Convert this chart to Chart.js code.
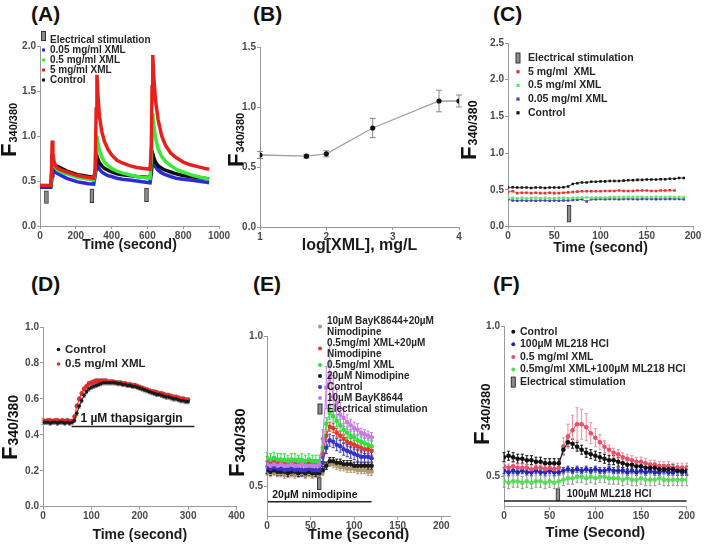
<!DOCTYPE html>
<html>
<head>
<meta charset="utf-8">
<style>
  body { margin: 0; background: #fff; width: 704px; height: 552px; position: relative; overflow: hidden; }
  canvas { position: absolute; }
  .tag { position: absolute; font: bold 21px 'Liberation Sans', Arial, sans-serif; line-height: 1; color: #111; }
</style>
<script src="https://cdn.jsdelivr.net/npm/chart.js@4.4.0/dist/chart.umd.min.js"></script>
</head>
<body>
<div class="tag" style="left:31px;top:3px">(A)</div>
<div class="tag" style="left:253px;top:3px">(B)</div>
<div class="tag" style="left:493px;top:3px">(C)</div>
<div class="tag" style="left:31px;top:273px">(D)</div>
<div class="tag" style="left:253px;top:273px">(E)</div>
<div class="tag" style="left:493px;top:273px">(F)</div>

<canvas id="cA" width="235" height="262" style="left:0;top:0"></canvas>
<canvas id="cB" width="242" height="262" style="left:228px;top:0"></canvas>
<canvas id="cC" width="244" height="262" style="left:460px;top:0"></canvas>
<canvas id="cD" width="250" height="282" style="left:0;top:270px"></canvas>
<canvas id="cE" width="242" height="282" style="left:228px;top:270px"></canvas>
<canvas id="cF" width="244" height="282" style="left:460px;top:270px"></canvas>

<script>
  // ---- panel A: electrical stimulation, 3 pulses
  const tA = [0, 20, 40, 60, 64, 68, 72, 80, 90, 100, 120, 150, 180, 210, 240, 270, 300,
    308, 314, 318, 324, 332, 345, 360, 380, 400, 430, 460, 500, 540, 580, 615,
    622, 626, 630, 636, 645, 660, 680, 700, 730, 760, 800, 840, 880, 920, 945]
  const redA = [.45, .45, .45, .45, .60, .95, .80, .70, .66, .64, .62, .60, .58, .56, .55, .54, .53,
    .62, 1.30, 1.68, 1.45, 1.22, 1.05, .94, .85, .79, .73, .70, .67, .65, .64, .63,
    .90, 1.55, 1.90, 1.65, 1.40, 1.18, 1.00, .90, .81, .76, .71, .68, .66, .64, .63]
  const greenA = [.45, .45, .45, .45, .55, .80, .72, .67, .64, .62, .60, .58, .56, .54, .53, .52, .51,
    .60, .90, 1.00, .92, .84, .77, .71, .67, .64, .61, .59, .57, .55, .54, .53,
    .75, 1.10, 1.25, 1.12, .98, .86, .77, .72, .67, .63, .60, .57, .55, .53, .52]
  const blackA = [.44, .44, .44, .44, .52, .72, .70, .68, .67, .66, .64, .61, .59, .57, .56, .55, .54,
    .58, .72, .78, .74, .70, .67, .64, .62, .60, .58, .57, .56, .55, .545, .54,
    .62, .74, .80, .76, .71, .67, .64, .62, .60, .58, .56, .55, .54, .53, .52]
  const blueA = [.43, .43, .43, .43, .48, .56, .62, .61, .59, .58, .56, .53, .51, .49, .48, .47, .465,
    .55, .64, .68, .66, .63, .60, .58, .56, .55, .53, .52, .51, .50, .49, .48,
    .58, .68, .74, .70, .66, .62, .59, .57, .55, .53, .52, .51, .50, .49, .48]
  const stimA = [36, 290, 595]
  const stimLoA = [0.25, 0.26, 0.27]
  const stimHiA = [0.39, 0.41, 0.42]

  // ---- panel B: dose response
  const xB = [1, 1.699, 2, 2.699, 3.699, 4]
  const yB = [0.60, 0.59, 0.61, 0.825, 1.05, 1.05]
  const errB = [0.03, 0.015, 0.025, 0.08, 0.09, 0.05]

  // ---- panel C
  const tC = [0, 5, 10, 15, 20, 25, 30, 35, 40, 45, 50, 55, 60, 65, 70, 75, 80, 85, 90, 95,
    100, 105, 110, 115, 120, 125, 130, 135, 140, 145, 150, 155, 160, 165, 170, 175, 180, 185, 190]
  const blackC = [.53, .535, .53, .53, .53, .525, .53, .53, .525, .53, .53, .53, .535, .545, .58, .59, .60, .60, .61, .61,
    .615, .615, .62, .62, .62, .625, .63, .63, .635, .635, .64, .64, .64, .645, .645, .65, .65, .66, .66]
  const redC = [.47, .48, .455, .46, .46, .455, .46, .455, .455, .46, .455, .455, .46, .465, .47, .475, .48, .48, .48, .48,
    .48, .485, .485, .485, .49, .485, .485, .485, .49, .49, .49, .485, .485, .49, .49, .495, .49]
  const greenC = [.39, .39, .385, .39, .385, .39, .39, .385, .39, .385, .385, .39, .39, .385, .39, .39, .395, .395, .39, .395,
    .395, .395, .40, .40, .40, .40, .40, .40, .40, .405, .40, .40, .405, .40, .40, .405, .40, .40, .40]
  const blueC = [.37, .355, .35, .355, .35, .355, .35, .355, .355, .35, .355, .35, .355, .355, .36, .365, .37, .34, .37, .37,
    .375, .37, .375, .375, .37, .375, .375, .375, .37, .375, .375, .375, .37, .375, .375, .375, .375, .375, .37]
  const stimC = [66]

  // ---- panel D: thapsigargin
  const tD = [0, 5, 10, 15, 20, 25, 30, 35, 40, 45, 50, 55, 60, 65, 70, 75, 80, 85, 90, 95,
    100, 105, 110, 115, 120, 125, 130, 135, 140, 145, 150, 155, 160, 165, 170, 175, 180, 185, 190, 195,
    200, 205, 210, 215, 220, 225, 230, 235, 240, 245, 250, 255, 260, 265, 270, 275, 280, 285, 290, 295, 300]
  const ctrlD = [.47, .47, .47, .465, .47, .47, .465, .47, .47, .465, .47, .465, .47,
    .48, .52, .56, .59, .62, .64, .655, .665, .67, .675, .68, .685, .69, .69, .69, .69, .69, .69,
    .685, .685, .68, .68, .675, .675, .67, .67, .665, .66, .655, .65, .645, .64, .635, .63,
    .625, .625, .62, .615, .61, .61, .605, .60, .60, .595, .59, .59, .585, .585]
  const xmlD = [.48, .475, .48, .48, .475, .48, .48, .475, .48, .475, .48, .475, .475,
    .50, .56, .60, .63, .655, .67, .685, .69, .695, .70, .70, .70, .70, .70, .695, .695, .695, .69,
    .69, .69, .685, .685, .68, .68, .675, .675, .67, .665, .66, .655, .65, .645, .64, .64,
    .635, .63, .63, .625, .62, .62, .615, .61, .61, .605, .60, .60, .595, .595]

  // ---- panel E: nimodipine
  const tE = [0, 4, 8, 12, 16, 20, 24, 28, 32, 36, 40, 44, 48, 52, 56, 60,
    64, 68, 72, 76, 80, 84, 88, 92, 96, 100, 104, 108, 112, 116, 120]
  const bayNimoE = [.55, .545, .55, .545, .545, .54, .545, .545, .54, .545, .545, .54, .545, .54, .545, .54,
    .55, .57, .58, .575, .57, .565, .565, .56, .56, .56, .555, .555, .555, .55, .55]
  const xmlNimoE = [.585, .58, .585, .58, .58, .575, .58, .58, .575, .58, .575, .575, .58, .575, .575, .575,
    .61, .67, .70, .695, .68, .67, .66, .65, .645, .64, .635, .63, .625, .625, .62]
  const xmlE = [.595, .59, .595, .59, .59, .59, .585, .59, .59, .585, .59, .585, .59, .585, .585, .585,
    .63, .71, .745, .735, .72, .705, .69, .68, .67, .665, .655, .65, .645, .64, .635]
  const nimoE = [.555, .55, .555, .55, .55, .55, .545, .55, .55, .545, .55, .545, .55, .545, .545, .545,
    .555, .57, .585, .585, .58, .58, .575, .575, .575, .57, .57, .57, .57, .57, .57]
  const ctrlE = [.565, .56, .565, .56, .56, .555, .56, .56, .555, .56, .555, .555, .56, .555, .555, .555,
    .58, .63, .655, .65, .64, .635, .625, .62, .615, .61, .605, .60, .60, .60, .595]
  const bayE = [.575, .57, .575, .57, .575, .57, .57, .575, .57, .57, .575, .57, .57, .57, .57, .575,
    .66, .83, .87, .80, .78, .74, .73, .715, .705, .695, .69, .68, .675, .67, .665]
  const errBayE = [.012, .012, .012, .012, .012, .012, .012, .012, .012, .012, .012, .012, .012, .012, .012, .012,
    .03, .07, .10, .07, .05, .04, .03, .025, .02, .02, .02, .015, .015, .015, .015]

  // ---- panel F: ML218
  const tF = [0, 5, 10, 15, 20, 25, 30, 35, 40, 45, 50, 55, 60, 65, 70, 75, 80, 85, 90, 95,
    100, 105, 110, 115, 120, 125, 130, 135, 140, 145, 150, 155, 160, 165, 170, 175, 180, 185, 190, 195, 200]
  const ctrlF = [.565, .57, .565, .56, .56, .555, .555, .55, .55, .545, .545, .545, .545,
    .59, .615, .61, .60, .59, .58, .575, .57, .565, .56, .555, .555, .55, .545, .54, .54, .535,
    .535, .53, .53, .53, .525, .525, .525, .525, .52, .52, .52]
  const mlF = [.52, .515, .52, .515, .52, .515, .515, .52, .515, .515, .52, .515, .515,
    .52, .525, .52, .525, .52, .525, .52, .525, .52, .52, .525, .52, .52, .52, .515, .52, .515,
    .52, .515, .52, .515, .515, .52, .515, .515, .52, .515, .515]
  const xmlF = [.535, .53, .535, .53, .53, .53, .525, .53, .53, .525, .53, .525, .53,
    .60, .635, .655, .675, .675, .665, .645, .63, .615, .60, .59, .58, .575, .565, .56, .555, .55,
    .55, .545, .54, .54, .535, .535, .535, .53, .53, .53, .53]
  const xmlMlF = [.485, .48, .485, .485, .48, .485, .48, .485, .485, .48, .485, .48, .485,
    .49, .495, .495, .50, .50, .495, .50, .495, .50, .50, .495, .495, .495, .49, .495, .49, .49,
    .495, .49, .49, .49, .495, .49, .49, .49, .49, .49, .49]
  const errXmlF = [.012, .012, .012, .012, .012, .012, .012, .012, .012, .012, .012, .012, .012,
    .03, .04, .05, .055, .05, .045, .035, .03, .025, .02,
    .015, .015, .015, .015, .015, .015, .015, .015, .015, .015, .015, .015, .015, .015, .015, .015, .015, .015]

  // ---- tick labels
  const ticksA = { x: [0, 200, 400, 600, 800, 1000], y: [0, 0.5, 1, 1.5, 2] }
  const ticksB = { x: [1, 2, 3, 4], y: [0, 0.5, 1, 1.5] }
  const ticksC = { x: [0, 50, 100, 150, 200], y: [0, 0.5, 1, 1.5, 2, 2.5] }
  const ticksD = { x: [0, 100, 200, 300, 400], y: [0, 0.2, 0.4, 0.6, 0.8, 1] }
  const ticksE = { x: [0, 50, 100, 150, 200], y: [0.5, 1] }
  const ticksF = { x: [0, 50, 100, 150, 200], y: [0.5, 1] }

  const FONT = "'Liberation Sans', Arial, sans-serif"
  const AX = '#9a9a9a'
  Chart.defaults.font.family = FONT
  Chart.defaults.font.weight = 'bold'
  Chart.defaults.color = '#4a4a4a'

  function pts(xs, ys) {
    return ys.map((y, i) => ({ x: xs[i], y: y }))
  }

  function series(label, xs, ys, color, extra) {
    return Object.assign({
      type: 'line', label: label, data: pts(xs, ys),
      borderColor: color, backgroundColor: color, pointBackgroundColor: color,
      borderWidth: 1, pointRadius: 2, pointBorderWidth: 0, tension: 0
    }, extra || {})
  }

  function stim(xs, lo, hi) {
    return {
      type: 'bar', label: 'Electrical stimulation',
      data: xs.map((x, i) => ({ x: x, y: [lo[i], hi[i]] })),
      backgroundColor: '#8c8c8c', borderColor: '#333', borderWidth: 1,
      barThickness: 4, borderSkipped: false, order: 0
    }
  }

  function hline(x0, x1, y) {
    return { type: 'line', label: '', data: [{ x: x0, y: y }, { x: x1, y: y }],
      borderColor: '#222', borderWidth: 1.5, pointRadius: 0, order: 0 }
  }

  function xScale(min, max, vals, h, title, tsize, tpad) {
    return {
      type: 'linear', min: min, max: max, offset: false,
      afterBuildTicks: s => { s.ticks = vals.map(v => ({ value: v })) },
      afterFit: s => { s.height = h },
      grid: { drawOnChartArea: false, offset: false, color: AX, tickLength: 3 },
      border: { color: AX },
      ticks: { font: { size: 10 }, padding: 1, maxRotation: 0, autoSkip: false, callback: v => String(v) },
      title: { display: true, text: title, color: '#1a1a1a', font: { size: tsize }, padding: { top: 0, bottom: tpad } }
    }
  }

  function yScale(min, max, vals, w, digits) {
    return {
      type: 'linear', min: min, max: max,
      afterBuildTicks: s => { s.ticks = vals.map(v => ({ value: v })) },
      afterFit: s => { s.width = w },
      grid: { drawOnChartArea: false, color: AX, tickLength: 3 },
      border: { color: AX },
      ticks: { font: { size: 10 }, padding: 1, autoSkip: false, callback: v => Number(v).toFixed(digits) }
    }
  }

  // error bars drawn under the points
  const errPlugin = {
    id: 'errbars',
    beforeDatasetsDraw(chart) {
      const { ctx, scales } = chart
      chart.data.datasets.forEach(ds => {
        if (ds.err == null) return
        ctx.save()
        ctx.strokeStyle = ds.errColor || ds.borderColor
        ctx.lineWidth = 1
        const cap = ds.errCap == null ? 1.5 : ds.errCap
        ds.data.forEach((p, j) => {
          const e = Array.isArray(ds.err) ? ds.err[j] : ds.err
          const px = scales.x.getPixelForValue(p.x)
          const y0 = scales.y.getPixelForValue(p.y - e)
          const y1 = scales.y.getPixelForValue(p.y + e)
          ctx.beginPath()
          ctx.moveTo(px, y0); ctx.lineTo(px, y1)
          ctx.moveTo(px - cap, y0); ctx.lineTo(px + cap, y0)
          ctx.moveTo(px - cap, y1); ctx.lineTo(px + cap, y1)
          ctx.stroke()
        })
        ctx.restore()
      })
    }
  }

  // y label with subscript, in-chart legend and notes
  function textPlugin(cfg) {
    return {
      id: 'paneltext',
      afterDraw(chart) {
        const ctx = chart.ctx
        const yl = cfg.ylab
        ctx.save()
        ctx.translate(yl.x, yl.y)
        ctx.rotate(-Math.PI / 2)
        ctx.fillStyle = '#111'
        ctx.textAlign = 'left'
        ctx.textBaseline = 'alphabetic'
        ctx.font = 'bold ' + yl.f + 'px ' + FONT
        ctx.fillText('F', 0, 0)
        const w = ctx.measureText('F').width
        ctx.font = 'bold ' + yl.s + 'px ' + FONT
        ctx.fillText('340/380', w + 1, 1)
        ctx.restore()

        const L = cfg.legend
        const ds = chart.data.datasets
        let row = 0
        ctx.save()
        ctx.font = 'bold ' + L.size + 'px ' + FONT
        ctx.textBaseline = 'middle'
        ctx.textAlign = 'left'
        L.items.forEach(i => {
          const d = ds[i]
          const lines = d.label.split('\n')
          const ym = L.y0 + L.dy * (row + (lines.length - 1) / 2)
          if (d.type === 'bar') {
            const rh = L.rh || 9
            const ry = ym - rh / 2 + (L.ro || 0)
            ctx.fillStyle = d.backgroundColor
            ctx.strokeStyle = d.borderColor
            ctx.lineWidth = 1
            ctx.fillRect(L.mx - 2, ry, 4, rh)
            ctx.strokeRect(L.mx - 2, ry, 4, rh)
          } else {
            ctx.fillStyle = d.borderColor
            if (L.sq) {
              ctx.fillRect(L.mx - L.r, ym - L.r, L.r * 2, L.r * 2)
            } else {
              ctx.beginPath()
              ctx.arc(L.mx, ym, L.r, 0, Math.PI * 2)
              ctx.fill()
            }
          }
          ctx.fillStyle = '#262626'
          lines.forEach((t, k) => ctx.fillText(t, L.tx, L.y0 + L.dy * (row + k)))
          row += lines.length
        })
        ctx.restore()

        ;(cfg.notes || []).forEach(n => {
          ctx.save()
          ctx.font = 'bold ' + n.size + 'px ' + FONT
          ctx.fillStyle = '#1a1a1a'
          ctx.textAlign = n.align
          ctx.textBaseline = 'middle'
          ctx.fillText(n.text, chart.scales.x.getPixelForValue(n.x), chart.scales.y.getPixelForValue(n.y))
          ctx.restore()
        })
      }
    }
  }

  function build(id, cfg) {
    return new Chart(document.getElementById(id), {
      type: 'line',
      data: { datasets: cfg.datasets },
      options: {
        responsive: false, animation: false, devicePixelRatio: 1, events: [],
        layout: { padding: cfg.pad },
        plugins: { legend: { display: false }, tooltip: { enabled: false } },
        scales: { x: cfg.x, y: cfg.y }
      },
      plugins: [errPlugin, textPlugin(cfg)]
    })
  }

  // A
  const thick = { borderWidth: 3.5, pointRadius: 0 }
  build('cA', {
    pad: { top: 46, right: 16, left: 0, bottom: 0 },
    x: xScale(0, 1000, ticksA.x, 36, 'Time (second)', 14, 8),
    y: yScale(0, 2, ticksA.y, 40, 1),
    datasets: [
      stim(stimA, stimLoA, stimHiA),
      series('0.05 mg/ml XML', tA, blueA, '#2a2ad8', Object.assign({ order: 4 }, thick)),
      series('0.5 mg/ml XML', tA, greenA, '#3ee83a', Object.assign({ order: 2 }, thick)),
      series('5 mg/ml XML', tA, redA, '#e8201c', Object.assign({ order: 1 }, thick)),
      series('Control', tA, blackA, '#111', Object.assign({ order: 3 }, thick))
    ],
    ylab: { x: 16, y: 157, f: 22, s: 11 },
    legend: { mx: 43.5, tx: 50, y0: 40, dy: 10, size: 10, r: 1.5, sq: true, rh: 9, ro: -4, items: [0, 1, 2, 3, 4] }
  })

  // B
  build('cB', {
    pad: { top: 47, right: 11, left: 0, bottom: 0 },
    x: xScale(1, 4, ticksB.x, 35, 'log[XML], mg/L', 16, 7),
    y: yScale(0, 1.5, ticksB.y, 32, 1),
    datasets: [
      series('XML', xB, yB, '#a0a0a0', { borderWidth: 1.3, pointRadius: 2.6, pointBackgroundColor: '#111',
        err: errB, errColor: '#888', errCap: 3 })
    ],
    ylab: { x: 15, y: 167, f: 22, s: 11 },
    legend: { mx: 0, tx: 0, y0: 0, dy: 0, size: 10, r: 0, items: [] }
  })

  // C
  const dotC = { pointStyle: 'rect', pointRadius: 1.8, borderWidth: 0.8 }
  build('cC', {
    pad: { top: 43, right: 11, left: 0, bottom: 0 },
    x: xScale(0, 200, ticksC.x, 35.5, 'Time (second)', 14, 5.5),
    y: yScale(0, 2.5, ticksC.y, 48, 1),
    datasets: [
      stim(stimC, [0.06], [0.29]),
      series('5 mg/ml  XML', tC, redC, '#e83030', dotC),
      series('0.5 mg/ml XML', tC, greenC, '#5be85b', dotC),
      series('0.05 mg/ml XML', tC, blueC, '#4040c0', dotC),
      series('Control', tC, blackC, '#151515', dotC)
    ],
    ylab: { x: 16, y: 160, f: 22, s: 12.5 },
    legend: { mx: 58, tx: 68, y0: 58, dy: 13.7, size: 10.5, r: 1.6, sq: true, rh: 10, items: [0, 1, 2, 3, 4] }
  })

  // D
  build('cD', {
    pad: { top: 57, right: 13.5, left: 0, bottom: 0 },
    x: xScale(0, 400, ticksD.x, 45.3, 'Time (second)', 14, 8.5),
    y: yScale(0, 1, ticksD.y, 43, 1),
    datasets: [
      hline(59, 313, 0.446),
      series('0.5 mg/ml XML', tD, xmlD, '#e82828', { pointRadius: 2.3, order: 2, err: 0.012, errColor: '#a0a0a0' }),
      series('Control', tD, ctrlD, '#1a1a1a', { pointRadius: 1.8, order: 1, err: 0.012, errColor: '#8a8a8a' })
    ],
    ylab: { x: 17, y: 190, f: 22, s: 14 },
    legend: { mx: 58.5, tx: 65, y0: 79.5, dy: 14.5, size: 11.5, r: 1.8, items: [2, 1] },
    notes: [{ text: '1 \u00b5M thapsigargin', x: 183, y: 0.489, align: 'center', size: 12 }]
  })

  // E
  const dotE = { pointRadius: 2.3 }
  build('cE', {
    pad: { top: 66.7, right: 20, left: 0, bottom: 0 },
    x: xScale(0, 210, ticksE.x, 35.3, 'Time (second)', 15, 8),
    y: yScale(0.4, 1, ticksE.y, 39, 1),
    datasets: [
      hline(1, 120, 0.45),
      series('10\u00b5M BayK8644+20\u00b5M\nNimodipine', tE, bayNimoE, '#b0986a', Object.assign({ order: 6, err: 0.012 }, dotE)),
      series('0.5mg/ml XML+20\u00b5M\nNimodipine', tE, xmlNimoE, '#e03a2a', Object.assign({ order: 4, err: 0.015 }, dotE)),
      series('0.5mg/ml XML', tE, xmlE, '#2ee040', Object.assign({ order: 3, err: 0.02 }, dotE)),
      series('20\u00b5M Nimodipine', tE, nimoE, '#1a1a1a', Object.assign({ order: 5, err: 0.012 }, dotE)),
      series('Control', tE, ctrlE, '#3434c8', Object.assign({ order: 2, err: 0.02 }, dotE)),
      series('10\u00b5M BayK8644', tE, bayE, '#c878e8', Object.assign({ order: 1, err: errBayE }, dotE)),
      stim([60], [0.49], [0.53])
    ],
    ylab: { x: 16, y: 207, f: 22, s: 15 },
    legend: { mx: 92, tx: 99, y0: 51, dy: 11, size: 10, r: 2, rh: 10, items: [1, 2, 3, 4, 5, 6, 7] },
    notes: [{ text: '20\u00b5M nimodipine', x: 55, y: 0.473, align: 'center', size: 10.5 }]
  })

  // F
  const dotF = { pointRadius: 2.3 }
  build('cF', {
    pad: { top: 56.7, right: 17.3, left: 0, bottom: 0 },
    x: xScale(0, 200, ticksF.x, 45.3, 'Time (Second)', 14.5, 10),
    y: yScale(0.4, 1, ticksF.y, 44, 1),
    datasets: [
      hline(0, 200, 0.419),
      series('Control', tF, ctrlF, '#111', Object.assign({ order: 1, err: 0.015 }, dotF)),
      series('100\u00b5M ML218 HCl', tF, mlF, '#2424b8', Object.assign({ order: 3, err: 0.01 }, dotF)),
      series('0.5 mg/ml XML', tF, xmlF, '#e8506a', Object.assign({ order: 2, err: errXmlF, errColor: '#f08a98' }, dotF)),
      series('0.5mg/ml XML+100\u00b5M ML218 HCl', tF, xmlMlF, '#50e050', Object.assign({ order: 4, err: 0.02, errColor: '#8a9a8a' }, dotF)),
      stim([59], [0.42], [0.46])
    ],
    ylab: { x: 29, y: 175, f: 22, s: 13 },
    legend: { mx: 53.3, tx: 60, y0: 61.7, dy: 12.6, size: 10.5, r: 2, rh: 10, items: [1, 2, 3, 4, 5] },
    notes: [{ text: '100\u00b5M ML218 HCl', x: 68.7, y: 0.442, align: 'left', size: 10 }]
  })
</script>
</body>
</html>
